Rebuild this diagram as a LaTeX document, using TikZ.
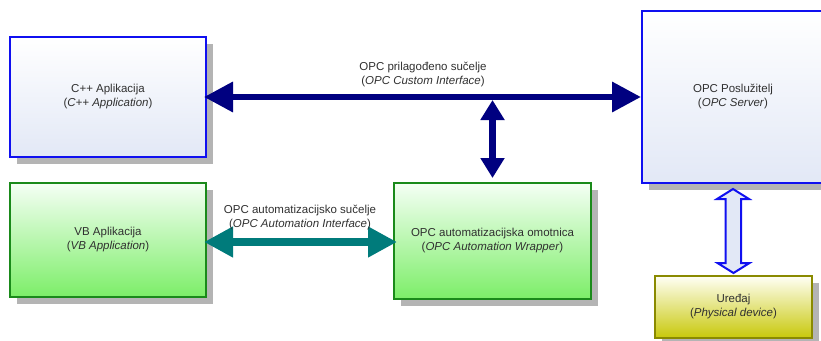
\documentclass[tikz,border=0pt]{standalone}
\usepackage{fontspec}
\setmainfont{Liberation Sans}
\usetikzlibrary{arrows.meta,shadows,calc}
\definecolor{navyA}{HTML}{000080}
\definecolor{tealA}{HTML}{007B7B}
\definecolor{blueB}{HTML}{1010F0}
\definecolor{greenB}{HTML}{1A8A1A}
\definecolor{oliveB}{HTML}{8A8A00}
\definecolor{shadowg}{HTML}{B4B4B4}
\definecolor{txt}{HTML}{303030}
\definecolor{hollowf}{HTML}{E2E8F6}
\begin{document}
\begin{tikzpicture}[x=1pt,y=-1pt,
  every node/.style={font=\fontsize{11.5}{14}\selectfont, text=txt, align=center},
  box/.style={draw, line width=2pt, inner sep=0pt,
    drop shadow={shadow xshift=7pt, shadow yshift=-7pt, opacity=1, fill=shadowg}},
  bluebox/.style={box, draw=blueB, top color=white, bottom color=hollowf},
  greenbox/.style={box, draw=greenB, top color=green!4, bottom color={rgb,255:red,124;green,238;blue,104}},
  yellowbox/.style={box, draw=oliveB, top color=yellow!4, bottom color={rgb,255:red,200;green,200;blue,10}},
  navyarrow/.style={draw=navyA, line width=6.5pt, {Triangle[length=29pt,width=29pt]}-{Triangle[length=29pt,width=29pt]}},
  vertarrow/.style={draw=navyA, line width=6.5pt, {Triangle[length=20pt,width=23pt]}-{Triangle[length=20pt,width=23pt]}},
  tealarrow/.style={draw=tealA, line width=8pt, {Triangle[length=29pt,width=29pt]}-{Triangle[length=29pt,width=29pt]}},
  hollow/.style={draw=blueB, line width=2pt, fill=hollowf, line join=miter},
  lbl/.style={fill=none}
]
\useasboundingbox (0,0) rectangle (821,340);

\node[bluebox, minimum width=196pt, minimum height=120pt] (cpp) at (108,97)
  {C++ Aplikacija\\(\textit{C++ Application})};
\node[bluebox, minimum width=182pt, minimum height=172pt] (srv) at (733,97)
  {OPC Poslužitelj\\(\textit{OPC Server})};
\node[greenbox, minimum width=196pt, minimum height=114pt] (vb) at (108,240)
  {VB Aplikacija\\(\textit{VB Application})};
\node[greenbox, minimum width=197pt, minimum height=116pt] (wrap) at (492.5,241)
  {OPC automatizacijska omotnica\\(\textit{OPC Automation Wrapper})};
\node[yellowbox, minimum width=157pt, minimum height=62pt] (dev) at (733.5,307)
  {Uređaj\\(\textit{Physical device})};

% main custom interface arrow
\draw[navyarrow] ($(cpp.east)+(-3,0)$) -- (srv.west);
\node[lbl] (lcustom) at (423,74.5) {OPC prilagođeno sučelje\\(\textit{OPC Custom Interface})};
% vertical arrow
\coordinate (vtop) at ($(wrap.north |- cpp.east)+(0,3)$);
\draw[vertarrow] (vtop) -- ($(wrap.north)+(0,-4)$);
% automation interface
\draw[tealarrow] ($(vb.east |- wrap.west)+(-3,1)$) -- ($(wrap.west)+(4,1)$);
\node[lbl] (lauto) at (300,217.5) {OPC automatizacijsko sučelje\\(\textit{OPC Automation Interface})};

% hollow double arrow server <-> device
\coordinate (ha) at ($(srv.south)+(0,5)$);
\coordinate (hb) at ($(dev.north)+(0,-2)$);
\begin{scope}[shift={(6,6)}]
\fill[shadowg] (ha) -- ++(16,10) -- ++(-8,0) |- ($(hb)+(8,-10)$) -- ++(8,0) -- (hb) -- ++(-16,-10) -- ++(8,0) |- ($(ha)+(-8,10)$) -- ++(-8,0) -- cycle;
\end{scope}
\draw[hollow] (ha) -- ++(16,10) -- ++(-8,0) |- ($(hb)+(8,-10)$) -- ++(8,0) -- (hb) -- ++(-16,-10) -- ++(8,0) |- ($(ha)+(-8,10)$) -- ++(-8,0) -- cycle;
\end{tikzpicture}
\end{document}
